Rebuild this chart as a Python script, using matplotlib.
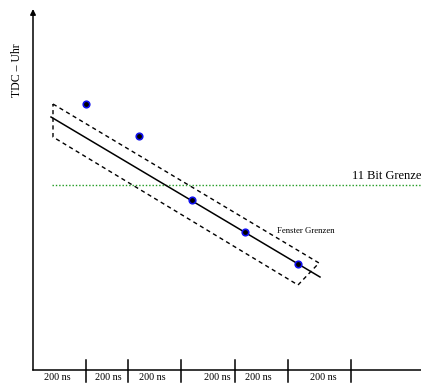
import matplotlib.pyplot as plt

# --- Data (pixel-like coordinates, y grows downward) ---
hit_x = [86, 139, 192, 245, 298]
hit_y = [104, 136, 200, 232, 264]

fit_x = [51, 320]
fit_y = [117, 277]

# window bounds (dashed parallelogram)
win_x = [53, 319, 298, 53, 53]
win_y = [104, 263, 285, 137, 104]

limit_y = 185          # 11 bit limit
tick_x = [86, 128, 181, 235, 288, 351]
label_x = [57, 108, 152, 217, 258, 323]
tick_labels = ['200 ns'] * 6

# --- Plot ---
fig = plt.figure(figsize=(4.21, 3.83), dpi=100)
ax = fig.add_axes([0, 0, 1, 1])
ax.set_xlim(0, 421)
ax.set_ylim(383, 0)
ax.axis('off')

serif = 'Liberation Serif'

# axes with arrow
ax.plot([33, 421], [370, 370], color='black', lw=1.1)
ax.annotate('', xy=(33, 9), xytext=(33, 370),
            arrowprops=dict(arrowstyle='-|>', color='black', lw=1.1,
                            mutation_scale=8, shrinkA=0, shrinkB=0))

# time bins
for x in tick_x:
    ax.plot([x, x], [360, 382], color='black', lw=1.1)
for x, lab in zip(label_x, tick_labels):
    ax.text(x, 378, lab, ha='center', va='center', fontsize=7.3,
            family=serif, stretch='condensed')

ax.text(17, 70, 'TDC – Uhr', rotation=90, ha='center', va='center',
        fontsize=8.5, family=serif)

# 11 bit limit
ax.plot([52, 421], [limit_y, limit_y], color='#1f9a1f', lw=1,
        linestyle=(0, (1, 1.4)))
ax.text(352, 176, '11 Bit Grenze', ha='left', va='center', fontsize=9,
        family=serif, clip_on=False)

# window and fit
ax.plot(win_x, win_y, color='black', lw=1, linestyle=(0, (3, 2.5)))
ax.plot(fit_x, fit_y, color='black', lw=1.1)
ax.text(277, 231, 'Fenster Grenzen', ha='left', va='center', fontsize=6.3,
        family=serif)

# hits
ax.scatter(hit_x, hit_y, s=22, color='black', edgecolors='#1010ee',
           linewidths=1.2, zorder=5)

fig.savefig('out.png', dpi=100)
